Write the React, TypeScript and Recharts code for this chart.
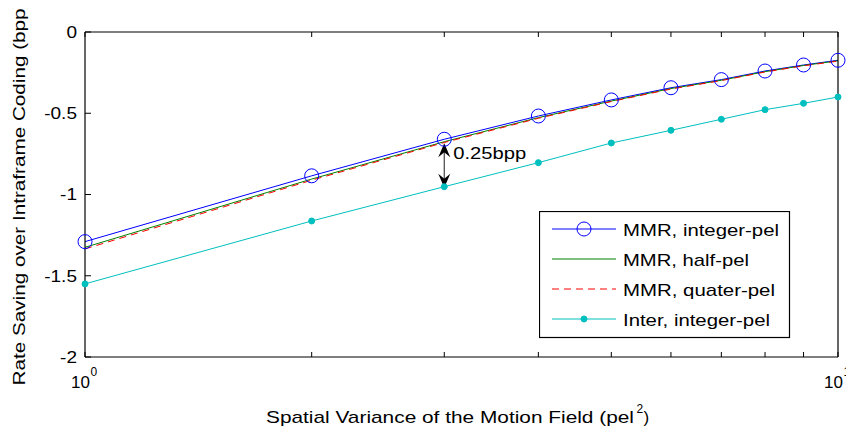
import React from 'react';
import { LineChart, Line, XAxis, YAxis, ReferenceLine, Legend } from 'recharts';

const xValues = [1, 2, 3, 4, 5, 6, 7, 8, 9, 10];
const mmrInteger = [-1.29, -0.885, -0.66, -0.517, -0.418, -0.343, -0.293, -0.24, -0.203, -0.174];
const mmrHalf = [-1.325, -0.905, -0.675, -0.527, -0.425, -0.348, -0.297, -0.244, -0.206, -0.177];
const mmrQuarter = [-1.335, -0.912, -0.68, -0.531, -0.428, -0.351, -0.299, -0.246, -0.208, -0.179];
const interInteger = [-1.55, -1.163, -0.952, -0.804, -0.683, -0.605, -0.537, -0.478, -0.439, -0.4];

const xTicks = [1, 2, 3, 4, 5, 6, 7, 8, 9, 10];
const xMajorTicks = [1, 10];
const yTicks = [-2, -1.5, -1, -0.5, 0];
const yTickLabels = ['-2', '-1.5', '-1', '-0.5', '0'];

const seriesKeys = ['mmrInt', 'mmrHalf', 'mmrQuarter', 'inter'];
const seriesNames = ['MMR, integer-pel', 'MMR, half-pel', 'MMR, quater-pel', 'Inter, integer-pel'];
const seriesColors = ['#0000ff', '#008000', '#ff0000', '#00bfbf'];
const seriesDash = [undefined, undefined, '7 5', undefined];
const legendTextLengths = [156, 126, 152, 147];

const annotationText = '0.25bpp';
const annotationX = 3;
const xAxisTitle = 'Spatial Variance of the Motion Field (pel';
const yAxisTitle = 'Rate Saving over Intraframe Coding (bpp)';

const data = xValues.map((x, i) => ({
  x,
  mmrInt: mmrInteger[i],
  mmrHalf: mmrHalf[i],
  mmrQuarter: mmrQuarter[i],
  inter: interInteger[i],
}));

const FONT = "'Liberation Sans', Arial, Helvetica, sans-serif";

const BottomTick = (props: any) => {
  const { x, y, payload } = props;
  const v = payload.value;
  const major = xMajorTicks.includes(v);
  return (
    <g>
      <line x1={x} x2={x} y1={y} y2={y - 5} stroke="#000" strokeWidth={1} />
      {major && (
        <g fontFamily={FONT} fill="#000">
          <text x={x + 5} y={y + 31} textAnchor="end" fontSize={17}>10</text>
          <text x={x + 5.5} y={y + 19} fontSize={12}>{String(Math.round(Math.log10(v)))}</text>
        </g>
      )}
    </g>
  );
};

const TopTick = (props: any) => {
  const { x, y } = props;
  return <line x1={x} x2={x} y1={y} y2={y + 5} stroke="#000" strokeWidth={1} />;
};

const LeftTick = (props: any) => {
  const { x, y, payload } = props;
  const idx = yTicks.indexOf(payload.value);
  return (
    <g>
      <line x1={x} x2={x + 6} y1={y} y2={y} stroke="#000" strokeWidth={1} />
      <text x={x - 8} y={y + 6} textAnchor="end" fontSize={17} fontFamily={FONT} fill="#000"
        transform={`translate(${x - 8},0) scale(1.12,1) translate(${-(x - 8)},0)`}>
        {yTickLabels[idx]}
      </text>
    </g>
  );
};

const RightTick = (props: any) => {
  const { x, y } = props;
  return <line x1={x} x2={x - 6} y1={y} y2={y} stroke="#000" strokeWidth={1} />;
};

const XTitle = (props: any) => {
  const vb = props.viewBox;
  const cx = vb.x + vb.width / 2;
  const by = vb.y + 66;
  return (
    <g fontFamily={FONT} fill="#000">
      <text x={cx - 195.5} y={by} fontSize={17} textLength={368} lengthAdjust="spacingAndGlyphs">{xAxisTitle}</text>
      <text x={cx + 175} y={by - 10} fontSize={12}>2</text>
      <text x={cx + 182} y={by} fontSize={17}>)</text>
    </g>
  );
};

const YTitle = (props: any) => {
  const vb = props.viewBox;
  const bx = vb.x;
  const cy = vb.y + vb.height / 2 - 1;
  return (
    <text x={bx} y={cy} transform={`rotate(-90, ${bx}, ${cy})`} textAnchor="middle" fontSize={17}
      fontFamily={FONT} fill="#000" textLength={384} lengthAdjust="spacingAndGlyphs">
      {yAxisTitle}
    </text>
  );
};

const ArrowShape = (props: any) => {
  const { x1, y1, x2, y2 } = props;
  const top = y1 + 4;
  const bot = y2 + 1;
  const hl = 14;
  const hw = 6;
  return (
    <g>
      <line x1={x1} x2={x2} y1={top + 4} y2={bot - 4} stroke="#444" strokeWidth={1.2} />
      <path d={`M${x1},${top} L${x1 + hw},${top + hl} L${x1},${top + hl - 5} L${x1 - hw},${top + hl} Z`} fill="#000" />
      <path d={`M${x1},${bot} L${x1 + hw},${bot - hl} L${x1},${bot - hl + 5} L${x1 - hw},${bot - hl} Z`} fill="#000" />
      <text x={x1 + 9} y={y1 + 20} fontSize={17} fontFamily={FONT} fill="#000" textLength={73} lengthAdjust="spacingAndGlyphs">
        {annotationText}
      </text>
    </g>
  );
};

const renderLegend = () => (
  <svg width={252} height={128} style={{ display: 'block' }}>
    <rect x={0.5} y={0.5} width={250} height={126} fill="#fff" stroke="#000" strokeWidth={1.2} />
    {seriesNames.map((name, i) => {
      const cy = 18 + i * 30;
      return (
        <g key={name}>
          <line x1={13} x2={77} y1={cy} y2={cy} stroke={seriesColors[i]} strokeWidth={1}
            strokeDasharray={seriesDash[i]} />
          {i === 0 && <circle cx={45} cy={cy} r={7} fill="none" stroke={seriesColors[i]} strokeWidth={1} />}
          {i === 3 && <circle cx={45} cy={cy} r={3} fill={seriesColors[i]} stroke={seriesColors[i]} />}
          <text x={84} y={cy + 7} fontSize={17} fontFamily={FONT} fill="#000"
            textLength={legendTextLengths[i]} lengthAdjust="spacingAndGlyphs">{name}</text>
        </g>
      );
    })}
  </svg>
);

export default function App() {
  return (
    <div style={{ width: 846, height: 427, background: '#fff' }}>
      <LineChart width={846} height={427} data={data} margin={{ top: 23, right: 15, bottom: 28, left: 17 }}
        style={{ overflow: 'visible' }}>
        <XAxis xAxisId="bottom" dataKey="x" type="number" scale="log" domain={[1, 10]} ticks={xTicks}
          interval={0} height={50} tickSize={0} tickMargin={0} tickLine={false}
          axisLine={{ stroke: '#000', strokeWidth: 1.2 }} tick={<BottomTick />} label={{ content: XTitle }} />
        <XAxis xAxisId="top" orientation="top" dataKey="x" type="number" scale="log" domain={[1, 10]}
          ticks={xTicks} interval={0} height={1} tickSize={0} tickMargin={0} tickLine={false}
          axisLine={{ stroke: '#000', strokeWidth: 1.2 }} tick={<TopTick />} />
        <YAxis yAxisId="left" type="number" domain={[-2, 0]} ticks={yTicks} interval={0} width={60}
          tickSize={0} tickMargin={0} tickLine={false} axisLine={{ stroke: '#000', strokeWidth: 1.2 }}
          tick={<LeftTick />} label={{ content: YTitle }} />
        <YAxis yAxisId="right" orientation="right" type="number" domain={[-2, 0]} ticks={yTicks} interval={0}
          width={1} tickSize={0} tickMargin={0} tickLine={false} axisLine={{ stroke: '#000', strokeWidth: 1.2 }}
          tick={<RightTick />} />
        <Line xAxisId="bottom" yAxisId="left" dataKey={seriesKeys[0]} name={seriesNames[0]} stroke={seriesColors[0]}
          strokeWidth={1} isAnimationActive={false}
          dot={{ r: 7, fill: 'none', stroke: seriesColors[0], strokeWidth: 1 }} activeDot={false} />
        <Line xAxisId="bottom" yAxisId="left" dataKey={seriesKeys[1]} name={seriesNames[1]} stroke={seriesColors[1]}
          strokeWidth={1} isAnimationActive={false} dot={false} activeDot={false} />
        <Line xAxisId="bottom" yAxisId="left" dataKey={seriesKeys[2]} name={seriesNames[2]} stroke={seriesColors[2]}
          strokeWidth={1} strokeDasharray={seriesDash[2]} isAnimationActive={false} dot={false} activeDot={false} />
        <Line xAxisId="bottom" yAxisId="left" dataKey={seriesKeys[3]} name={seriesNames[3]} stroke={seriesColors[3]}
          strokeWidth={1} isAnimationActive={false}
          dot={{ r: 3, fill: seriesColors[3], stroke: seriesColors[3], strokeWidth: 1 }} activeDot={false} />
        <ReferenceLine xAxisId="bottom" yAxisId="left"
          segment={[{ x: annotationX, y: mmrInteger[2] }, { x: annotationX, y: interInteger[2] }]}
          shape={ArrowShape} ifOverflow="visible" />
        <Legend layout="vertical" align="center" verticalAlign="middle" content={renderLegend}
          wrapperStyle={{ position: 'absolute', left: 531, top: 203, width: 252, height: 128 }} />
      </LineChart>
    </div>
  );
}
